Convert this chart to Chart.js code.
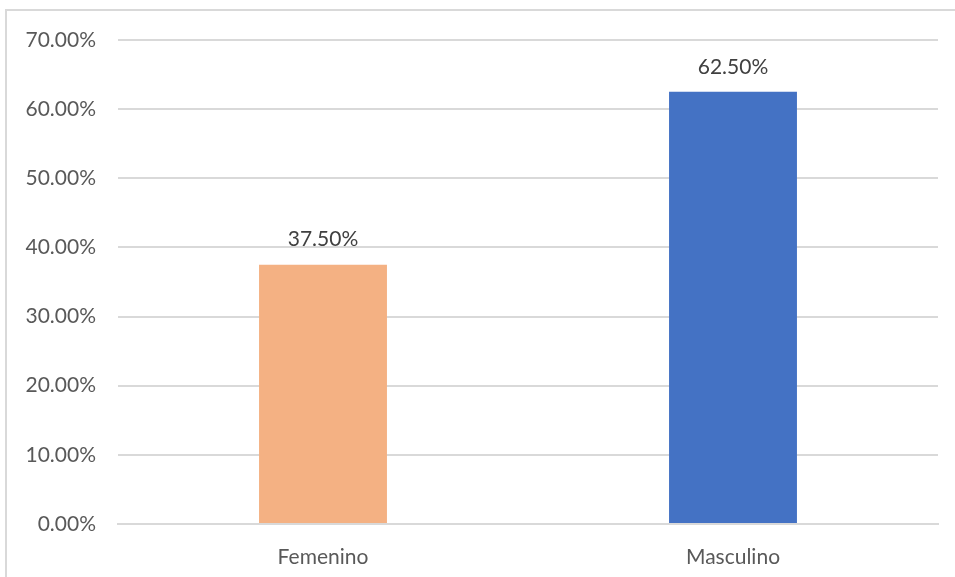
<!DOCTYPE html>
<html>
<head>
<meta charset="utf-8">
<script src="https://cdn.jsdelivr.net/npm/chart.js@4/dist/chart.umd.min.js"></script>
<style>
  html, body { margin: 0; padding: 0; background: #fff; }
  #wrap { position: relative; width: 955px; height: 577px; overflow: hidden; }
  #frame { position: absolute; left: 5px; top: 9px; width: 980px; height: 600px;
           border-left: 2px solid #d9d9d9; border-top: 2px solid #d9d9d9; box-sizing: border-box; }
  canvas { position: absolute; left: 0; top: 0; }
</style>
</head>
<body>
<div id="wrap">
  <div id="frame"></div>
  <canvas id="chart" width="955" height="577"></canvas>
</div>
<script>
const categorias = ['Femenino', 'Masculino']
const porcentajes = [37.5, 62.5]
const colores = ['#F4B183', '#4472C4']
const yTicks = [0, 10, 20, 30, 40, 50, 60, 70]

const FONT = 'Lato, "Open Sans", sans-serif'
const fmt = v => v.toFixed(2) + '%'

// Etiquetas de valor encima de cada barra
const valueLabels = {
  id: 'valueLabels',
  afterDatasetsDraw(chart) {
    const { ctx } = chart
    const meta = chart.getDatasetMeta(0)
    ctx.save()
    ctx.font = '21px ' + FONT
    ctx.fillStyle = '#404040'
    ctx.textAlign = 'center'
    ctx.textBaseline = 'middle'
    meta.data.forEach((bar, i) => {
      ctx.fillText(fmt(porcentajes[i]), bar.x, bar.y - 25)
    })
    ctx.restore()
  },
}

new Chart(document.getElementById('chart'), {
  type: 'bar',
  data: {
    labels: categorias,
    datasets: [{
      data: porcentajes,
      backgroundColor: colores,
      borderWidth: 0,
      barPercentage: 0.312,
      categoryPercentage: 1,
    }],
  },
  options: {
    responsive: false,
    animation: false,
    layout: { padding: { top: 40, right: 17, left: 0, bottom: 0 } },
    plugins: { legend: { display: false }, tooltip: { enabled: false } },
    scales: {
      x: {
        grid: { display: false },
        border: { display: true, color: '#d9d9d9', width: 2 },
        ticks: { color: '#595959', padding: 13, font: { size: 21, family: FONT } },
        afterFit(scale) { scale.height = 53 },
      },
      y: {
        min: 0,
        max: 70,
        afterBuildTicks(scale) { scale.ticks = yTicks.map(v => ({ value: v })) },
        grid: { color: '#d9d9d9', lineWidth: 2, drawTicks: false },
        border: { display: false },
        ticks: {
          color: '#595959',
          padding: 22,
          font: { size: 21, family: FONT },
          callback: v => fmt(v),
        },
        afterFit(scale) { scale.width = 118 },
      },
    },
  },
  plugins: [valueLabels],
})
</script>
</body>
</html>
